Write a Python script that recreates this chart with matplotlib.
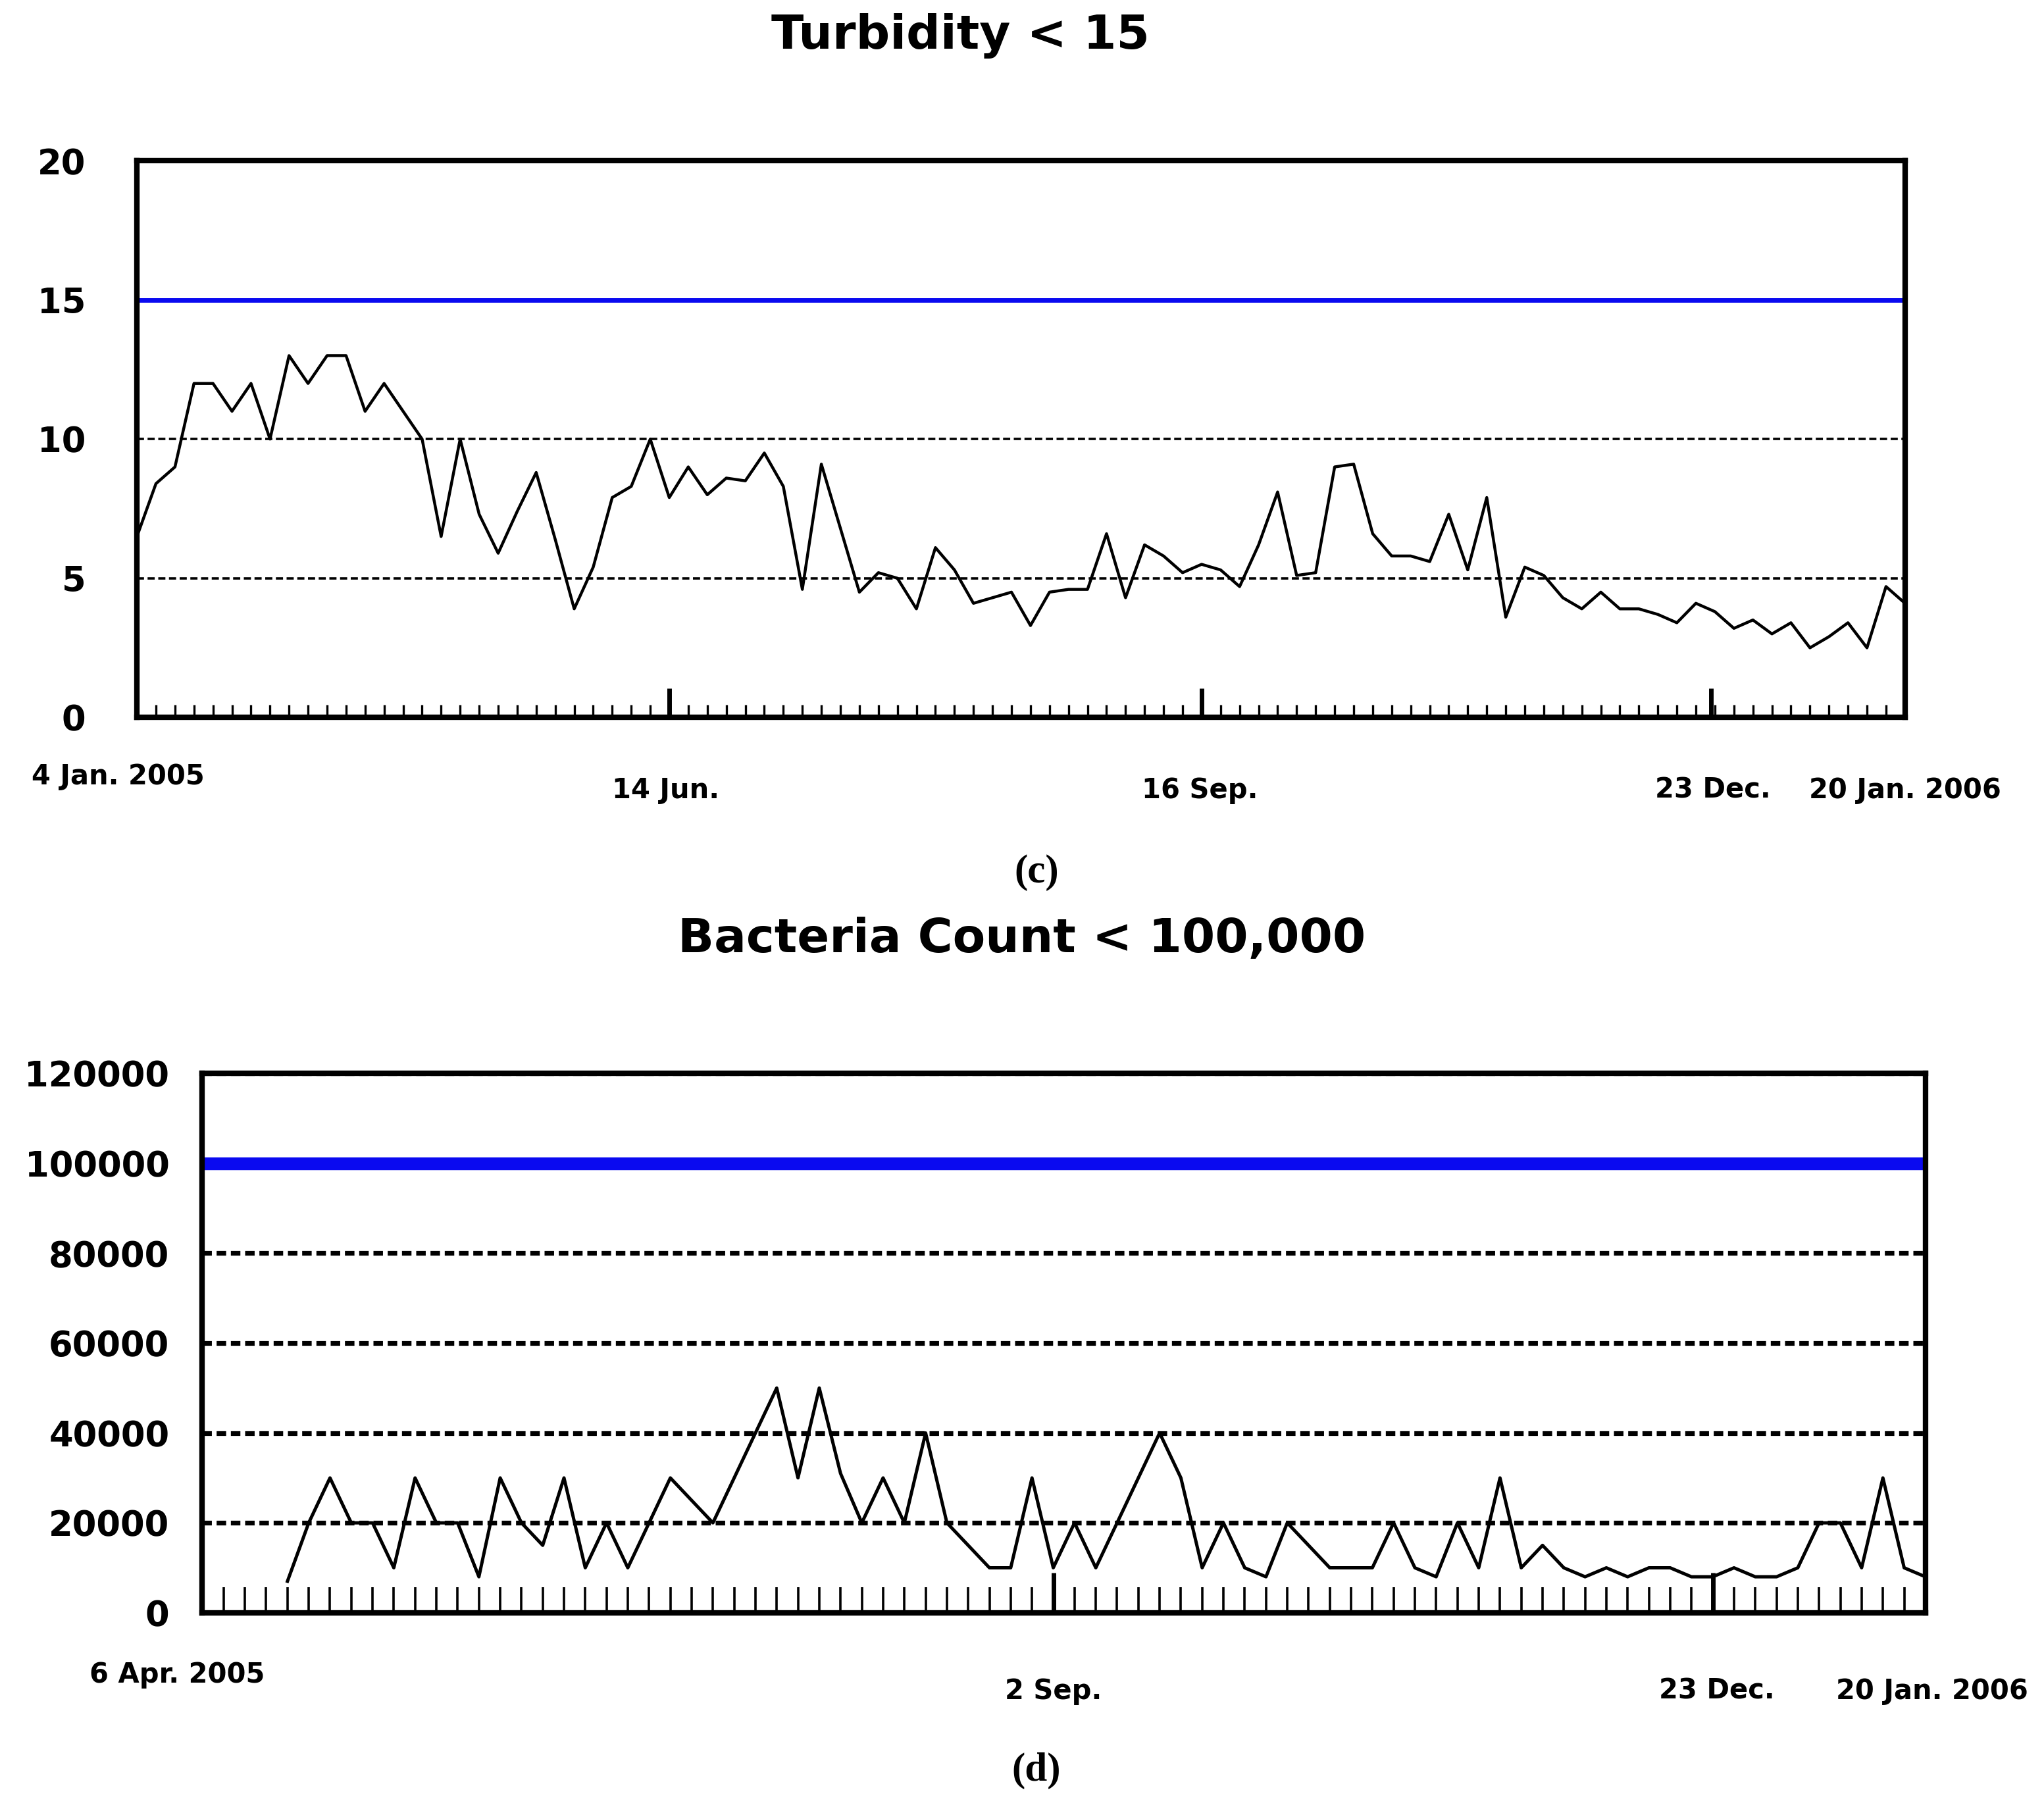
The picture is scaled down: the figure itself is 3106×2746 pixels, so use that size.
import matplotlib
matplotlib.use("Agg")
import matplotlib.pyplot as plt
import matplotlib.transforms as mtransforms

turbidity = [6.5, 8.4, 9, 12, 12, 11, 12, 10, 13, 12, 13, 13, 11, 12, 11, 10, 6.5, 10, 7.3, 5.9,
             7.4, 8.8, 6.4, 3.9, 5.4, 7.9, 8.3, 10, 7.9, 9, 8, 8.6, 8.5, 9.5, 8.3, 4.6, 9.1, 6.8,
             4.5, 5.2, 5, 3.9, 6.1, 5.3, 4.1, 4.3, 4.5, 3.3, 4.5, 4.6, 4.6, 6.6, 4.3, 6.2, 5.8,
             5.2, 5.5, 5.3, 4.7, 6.2, 8.1, 5.1, 5.2, 9, 9.1, 6.6, 5.8, 5.8, 5.6, 7.3, 5.3, 7.9,
             3.6, 5.4, 5.1, 4.3, 3.9, 4.5, 3.9, 3.9, 3.7, 3.4, 4.1, 3.8, 3.2, 3.5, 3.0, 3.4, 2.5,
             2.9, 3.4, 2.5, 4.7, 4.1]
turb_limit = 15
turb_labels = ["4 Jan. 2005", "14 Jun.", "16 Sep.", "23 Dec.", "20 Jan. 2006"]
turb_major = [28.0, 56.0, 82.8]
turb_label_idx = [-1, 27.8, 55.9, 82.9, 93.0]

bacteria = [7000, 20000, 30000, 20000, 20000, 10000, 30000, 20000, 20000, 8000, 30000, 20000,
            15000, 30000, 10000, 20000, 10000, 20000, 30000, 25000, 20000, 30000, 40000, 50000,
            30000, 50000, 31000, 20000, 30000, 20000, 40000, 20000, 15000, 10000, 10000, 30000,
            10000, 20000, 10000, 20000, 30000, 40000, 30000, 10000, 20000, 10000, 8000, 20000,
            15000, 10000, 10000, 10000, 20000, 10000, 8000, 20000, 10000, 30000, 10000, 15000,
            10000, 8000, 10000, 8000, 10000, 10000, 8000, 8000, 10000, 8000, 8000, 10000, 20000,
            20000, 10000, 30000, 10000, 8000]
bact_start = 4
bact_limit = 100000
bact_labels = ["6 Apr. 2005", "2 Sep.", "23 Dec.", "20 Jan. 2006"]
bact_major = [40.0, 71.0]
bact_label_idx = [-1.2, 40.0, 71.2, 81.3]

fig = plt.figure(figsize=(15.53, 13.73), dpi=200)
bold = dict(fontfamily="DejaVu Sans", fontweight="bold")

# ---- turbidity panel
ax = fig.add_axes([0.067, 0.603, 0.865, 0.308])
n = len(turbidity)
ax.plot(range(n), turbidity, color="black", lw=1.6, zorder=3)
ax.axhline(turb_limit, color="#0a0af0", lw=2.5, zorder=2)
for y in (5, 10):
    ax.axhline(y, color="black", lw=1.3, ls=(0, (3, 1.5)), zorder=1)
ax.set_xlim(0, n - 1)
ax.set_ylim(0, 20)
ax.set_yticks([0, 5, 10, 15, 20])
ax.set_yticklabels(["0", "5", "10", "15", "20"], fontsize=19, **bold)
ax.tick_params(axis="y", length=0, pad=28)
ax.set_xticks(list(range(n)), minor=True)
ax.set_xticks(turb_major)
ax.set_xticklabels([])
ax.tick_params(axis="x", which="minor", direction="in", length=7, width=1.2)
ax.tick_params(axis="x", which="major", direction="in", length=16, width=2.5)
for s in ax.spines.values():
    s.set_linewidth(3)
tr = mtransforms.blended_transform_factory(ax.transData, ax.transAxes)
for lab, xi, dy in zip(turb_labels, turb_label_idx, [-0.12, -0.145, -0.145, -0.145, -0.145]):
    ax.text(xi, dy, lab, transform=tr, ha="center", fontsize=15, **bold)
fig.text(0.47, 0.98, "Turbidity < 15", ha="center", va="center", fontsize=26, **bold)
fig.text(0.507, 0.517, "(c)", ha="center", va="center", fontsize=22,
         fontfamily="Liberation Serif", fontweight="bold")

# ---- bacteria panel
ax2 = fig.add_axes([0.099, 0.1075, 0.843, 0.2985])
m = bact_start + len(bacteria)
ax2.plot(range(bact_start, m), bacteria, color="black", lw=1.8, zorder=3)
ax2.axhline(bact_limit, color="#0a0af0", lw=7, zorder=2)
for y in (20000, 40000, 60000, 80000, 120000):
    ax2.axhline(y, color="black", lw=2.6, ls=(0, (2, 1)), zorder=1)
ax2.set_xlim(0, m - 1)
ax2.set_ylim(0, 120000)
yt = [0, 20000, 40000, 60000, 80000, 100000, 120000]
ax2.set_yticks(yt)
ax2.set_yticklabels([str(v) for v in yt], fontsize=19, **bold)
ax2.tick_params(axis="y", length=0, pad=18)
ax2.set_xticks(list(range(1, m)), minor=True)
ax2.set_xticks(bact_major)
ax2.set_xticklabels([])
ax2.tick_params(axis="x", which="minor", direction="in", length=14, width=1.3)
ax2.tick_params(axis="x", which="major", direction="in", length=22, width=2.5)
for s in ax2.spines.values():
    s.set_linewidth(3)
tr2 = mtransforms.blended_transform_factory(ax2.transData, ax2.transAxes)
for lab, xi, dy in zip(bact_labels, bact_label_idx, [-0.13, -0.16, -0.16, -0.16]):
    ax2.text(xi, dy, lab, transform=tr2, ha="center", fontsize=15, **bold)
fig.text(0.5, 0.48, "Bacteria Count < 100,000", ha="center", va="center", fontsize=26, **bold)
fig.text(0.507, 0.02, "(d)", ha="center", va="center", fontsize=22,
         fontfamily="Liberation Serif", fontweight="bold")

fig.savefig("out.png", dpi=200)
